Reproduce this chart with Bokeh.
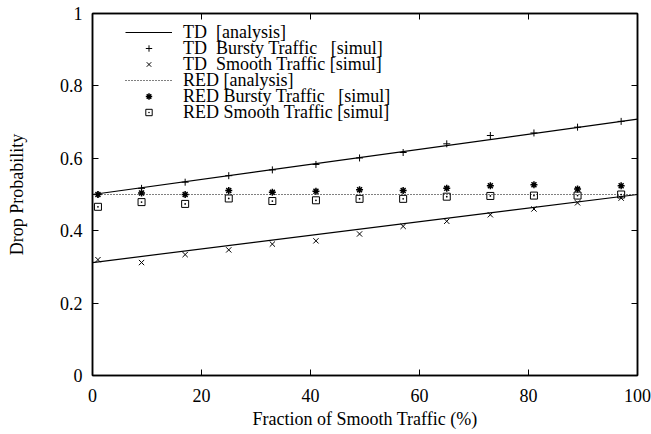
from bokeh.plotting import figure
from bokeh.models import Range1d, LinearAxis, FixedTicker, Legend, LegendItem
from bokeh.embed import file_html
from bokeh.resources import INLINE

# ---- data ----
x_sim = [1, 9, 17, 25, 33, 41, 49, 57, 65, 73, 81, 89, 97]
td_bursty = [0.500, 0.517, 0.534, 0.552, 0.568, 0.583, 0.601, 0.616, 0.640, 0.663, 0.670, 0.686, 0.702]
td_smooth = [0.320, 0.312, 0.334, 0.347, 0.363, 0.372, 0.391, 0.412, 0.426, 0.444, 0.460, 0.477, 0.490]
red_bursty = [0.500, 0.504, 0.500, 0.511, 0.506, 0.509, 0.513, 0.511, 0.517, 0.524, 0.527, 0.515, 0.524]
red_smooth = [0.466, 0.479, 0.474, 0.489, 0.482, 0.484, 0.488, 0.488, 0.494, 0.496, 0.497, 0.497, 0.500]

x_analysis = [0, 100]
td_analysis_bursty = [0.500, 0.708]
td_analysis_smooth = [0.312, 0.500]
red_analysis = [0.500, 0.500]

x_ticks = [0, 20, 40, 60, 80, 100]
x_tick_labels = ["0", "20", "40", "60", "80", "100"]
y_ticks = [0, 0.2, 0.4, 0.6, 0.8, 1]
y_tick_labels = ["0", "0.2", "0.4", "0.6", "0.8", "1"]

labels = ["TD  [analysis]", "TD  Bursty Traffic   [simul]", "TD  Smooth Traffic [simul]",
          "RED [analysis]", "RED Bursty Traffic   [simul]", "RED Smooth Traffic [simul]"]

FONT = "Liberation Serif"
FS = "18px"

p = figure(width=651, height=434, x_range=Range1d(0, 100), y_range=Range1d(0, 1),
           output_backend="svg", toolbar_location=None,
           min_border_left=92, min_border_right=14, min_border_top=13, min_border_bottom=59)
p.grid.visible = False
p.outline_line_color = "black"
p.outline_line_width = 1.5
p.background_fill_color = "white"
p.border_fill_color = "white"

def style_axis(ax, ticks, tick_labels, show_labels=True):
    ax.ticker = FixedTicker(ticks=ticks)
    ax.major_label_overrides = {t: l for t, l in zip(ticks, tick_labels)}
    ax.major_tick_in = 6
    ax.major_tick_out = 0
    ax.minor_tick_line_color = None
    ax.major_tick_line_color = "black"
    ax.major_tick_line_width = 1
    ax.axis_line_color = "black"
    ax.axis_line_width = 1.5
    ax.major_label_text_font = FONT
    if show_labels:
        ax.major_label_text_font_size = FS
        ax.major_label_text_color = "black"
    else:
        ax.major_label_text_font_size = "1px"
        ax.major_label_text_color = None
        ax.major_label_standoff = 0

style_axis(p.xaxis[0], x_ticks, x_tick_labels)
style_axis(p.yaxis[0], y_ticks, y_tick_labels)
p.xaxis[0].major_label_standoff = 13
p.yaxis[0].major_label_standoff = 10
for ax in (p.xaxis[0], p.yaxis[0]):
    ax.axis_label_text_font = FONT
    ax.axis_label_text_font_size = FS
    ax.axis_label_text_font_style = "normal"
    ax.axis_label_text_color = "black"
p.xaxis[0].axis_label = "Fraction of Smooth Traffic (%)"
p.yaxis[0].axis_label = "Drop Probability"
p.xaxis[0].axis_label_standoff = 4
p.yaxis[0].axis_label_standoff = 30

top = LinearAxis()
style_axis(top, x_ticks, x_tick_labels, show_labels=False)
p.add_layout(top, "above")
right = LinearAxis()
style_axis(right, y_ticks, y_tick_labels, show_labels=False)
p.add_layout(right, "right")

# analysis lines
r_td = p.line(x_analysis, td_analysis_bursty, line_color="black", line_width=1.2)
p.line(x_analysis, td_analysis_smooth, line_color="black", line_width=1.2)
r_red = p.line(x_analysis, red_analysis, line_color="black", line_width=1, line_dash="1 2")

# simulation points
r_tb = p.scatter(x_sim, td_bursty, marker="cross", size=7, line_color="black", line_width=1)
r_ts = p.scatter(x_sim, td_smooth, marker="x", size=7.5, line_color="black", line_width=1)
r_rb = p.scatter(x_sim, red_bursty, marker="asterisk", size=7, line_color="black", line_width=1.5)
r_rs = p.scatter(x_sim, red_smooth, marker="square_dot", size=7, line_color="black",
                 fill_color=None, line_width=1)

# one single-row legend per entry, stacked 16 px apart like the gnuplot key
frame_h = 434 - 13 - 59
row_h = 21
row_step = 16
for i, (lab, r) in enumerate(zip(labels, [r_td, r_tb, r_ts, r_red, r_rb, r_rs])):
    center_from_top = 19 + row_step * i
    lg = Legend(items=[LegendItem(label=lab, renderers=[r])],
                location=(33, frame_h - center_from_top - row_h / 2))
    lg.label_text_font = FONT
    lg.label_text_font_size = FS
    lg.label_text_color = "black"
    lg.label_height = 16
    lg.glyph_height = 16
    lg.glyph_width = 47
    lg.label_standoff = 11
    lg.spacing = 0
    lg.padding = 0
    lg.margin = 0
    lg.border_line_color = None
    lg.background_fill_alpha = 0
    p.add_layout(lg)

open("out.html", "w").write(file_html(p, INLINE))
